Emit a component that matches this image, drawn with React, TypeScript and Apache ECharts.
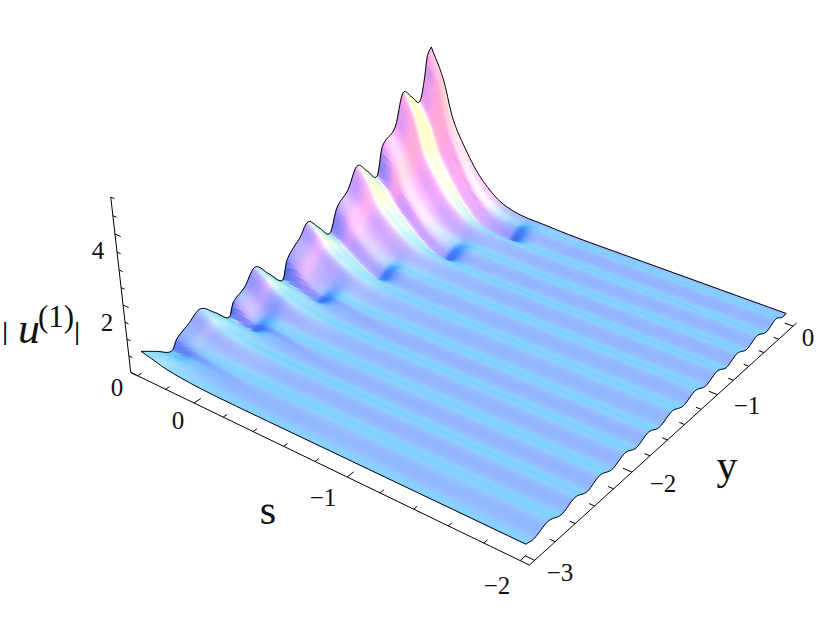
import React, { useEffect, useRef } from "react";
import * as echarts from "echarts";

// ---- values ----
const sTicks = [0.4, 0.2, 0, -0.2, -0.4, -0.6, -0.8, -1, -1.2, -1.4, -1.6, -1.8, -2];
const sLabels = [[0, "0"], [-1, "\u22121"], [-2, "\u22122"]];
const yTicks = [-3, -2.8, -2.6, -2.4, -2.2, -2, -1.8, -1.6, -1.4, -1.2, -1, -0.8, -0.6, -0.4, -0.2, 0];
const yLabels = [[-3, "\u22123"], [-2, "\u22122"], [-1, "\u22121"], [0, "0"]];
const zTicks = [0, 0.5, 1, 1.5, 2, 2.5, 3, 3.5, 4, 4.5, 5];
const zLabels = [[0, "0"], [2, "2"], [4, "4"]];

// section of the surface at the s = 0.4 edge
const edgeY = [-3, -2.87, -2.74, -2.69, -2.58, -2.46, -2.33, -2.2, -2.16, -2.04, -1.93, -1.8, -1.665, -1.615, -1.47, -1.385, -1.27, -1.16, -1.08, -0.955, -0.85, -0.74, -0.63, -0.57, -0.42, -0.33, -0.23, -0.13, -0.07, -0.05, 0];
const edgeZ = [0.63, 0.36, 0.1, 0.36, 0.58, 0.82, 0.45, 0.05, 0.41, 0.67, 1.08, 0.63, 0.18, 0.71, 1.17, 1.49, 1.1, 0.74, 1.39, 1.75, 2.32, 1.98, 1.65, 2.46, 2.85, 3.76, 3.5, 3.23, 4.0, 4.46, 4.7];

// section of the surface at the s = -2 edge
const farY = [-3, -2.92, -2.786, -2.65, -2.516, -2.39, -2.26, -2.125, -1.99, -1.86, -1.733, -1.6, -1.46, -1.32, -1.186, -1.05, -0.916, -0.79, -0.662, -0.53, -0.4, -0.27, -0.144, -0.05, 0];
const farZ = [0.33, 0.28, 0.42, 0.27, 0.42, 0.27, 0.42, 0.27, 0.42, 0.27, 0.42, 0.27, 0.42, 0.27, 0.42, 0.27, 0.42, 0.27, 0.42, 0.27, 0.42, 0.27, 0.42, 0.28, 0.3];

// how much of the edge section survives along -s
const fadeT = [-0.4, -0.31, -0.24, -0.135, -0.04, 0.09, 0.2, 0.33, 0.5, 0.7, 2];
const fadeW = [1, 0.8, 0.55, 0.35, 0.21, 0.09, 0.04, 0.018, 0.006, 0, 0];

// grooves running from the edge troughs to the dark pockets
const grooveY = [-2.2, -1.665, -1.16, -0.63, -0.13];
const grooveEnd = [-0.22, -0.12, -0.01, 0.14, 0.3];
const grooveD = [0.22, 0.27, 0.32, 0.37, 0.42];

// ---- helpers ----
function interp(xs: number[], ys: number[], x: number) {
  const n = xs.length;
  if (x <= xs[0]) return ys[0];
  if (x >= xs[n - 1]) return ys[n - 1];
  let i = 0;
  while (x > xs[i + 1]) i++;
  const h = xs[i + 1] - xs[i];
  const f = (x - xs[i]) / h;
  const d0 = i > 0 ? (ys[i + 1] - ys[i - 1]) / (xs[i + 1] - xs[i - 1]) : (ys[i + 1] - ys[i]) / h;
  const d1 = i < n - 2 ? (ys[i + 2] - ys[i]) / (xs[i + 2] - xs[i]) : (ys[i + 1] - ys[i]) / h;
  const f2 = f * f, f3 = f2 * f;
  return (2 * f3 - 3 * f2 + 1) * ys[i] + (f3 - 2 * f2 + f) * h * d0 + (-2 * f3 + 3 * f2) * ys[i + 1] + (f3 - f2) * h * d1;
}

function height(s: number, y: number) {
  const t = -s;
  const w = Math.max(0, interp(fadeT, fadeW, t));
  const far = interp(farY, farZ, y);
  const bend = 0.2 * (t + 0.4);
  const edge = interp(edgeY, edgeZ, Math.min(0, y + bend));
  let z = far + (edge - far) * w;
  for (let k = 0; k < grooveY.length; k++) {
    const end = grooveEnd[k];
    const ramp = (t + 0.4) / (end + 0.4);
    const span = t <= end ? ramp * ramp * (3 - 2 * ramp) : Math.exp(-(((t - end) / 0.085) ** 2));
    const dy = y - (grooveY[k] - bend);
    const g = dy > 0 ? Math.exp(-((dy / 0.17) ** 2)) : Math.exp(-((dy / 0.05) ** 2));
    z -= grooveD[k] * span * g;
  }
  return Math.max(0.02, z);
}

// camera: plot coordinates of (s, y, z)
function project(s: number, y: number, z: number): [number, number] {
  const t = -s, u = y + 3.05;
  const w = 1 - 0.0578 * t + 0.0615 * u - 0.01284 * z;
  return [(194 + 133 * t + 125 * u - 5.52 * z) / w, (403 + 46.4 * t - 49 * u - 38.5 * z) / w];
}

// display-space lighting
const ROW1 = [0.793, 0.518, -0.096];
const ROW2 = [-0.37, 0.464, 0.861];
const ROW3 = [0.484, -0.718, 0.493];
const soft = (v: number, lim: number) => v / Math.sqrt(1 + (v / lim) ** 2);
function shade(s: number, y: number) {
  const e = 0.006;
  const dzt = (height(s - e, y) - height(s + e, y)) / (2 * e);
  const dzu = (height(s, y + e) - height(s, y - e)) / (2 * e);
  const bx = soft(-dzt * 0.17, 1.4), by = soft(-dzu * 0.24 - 0.08, 1.0), bz = 1;
  const nx = ROW1[0] * bx + ROW1[1] * by + ROW1[2] * bz;
  const ny = ROW2[0] * bx + ROW2[1] * by + ROW2[2] * bz;
  const nz = ROW3[0] * bx + ROW3[1] * by + ROW3[2] * bz;
  const len = Math.hypot(nx, ny, nz);
  const a = nx / len, b = ny / len, c = nz / len;
  const d1 = Math.max(0, (a + c) / Math.SQRT2);
  const d2 = Math.max(0, (a + b + c) / Math.sqrt(3));
  const d3 = Math.max(0, (b + c) / Math.SQRT2);
  const to = (v: number) => Math.round(255 * Math.min(1, Math.max(0, v)));
  const green = 0.22 + 0.8 * d2 - 0.45 * Math.max(0, c - 0.78);
  return `rgb(${to(0.26 + d1)},${to(green)},${to(0.1 + 1.05 * d3)})`;
}

// mesh lines
const meshS: number[] = [];
for (let s = 0.4; s > -0.6; s -= 0.015) meshS.push(s);
for (let s = -0.6; s > -2; s -= 0.1) meshS.push(s);
meshS.push(-2);
const meshY: number[] = [];
for (let k = 0; k <= 200; k++) meshY.push(-k * 0.015);

const cells: number[][] = [];
for (let i = 0; i < meshY.length - 1; i++) for (let j = 0; j < meshS.length - 1; j++) cells.push([i, j]);
const heights = meshY.map((y) => meshS.map((s) => height(s, y)));

type Item = { kind: string; pts?: number[][]; text?: string; at?: number[]; size?: number; italic?: boolean; bold?: boolean };
const items: Item[] = [];
const seg = (a: number[], b: number[]) => items.push({ kind: "line", pts: [project(a[0], a[1], a[2]), project(b[0], b[1], b[2])] });
seg([0.45, -3.05, 0], [-2.05, -3.05, 0]);
seg([-2.05, -3.05, 0], [-2.05, 0.05, 0]);
seg([0.45, -3.05, 0], [0.45, -3.05, 5]);
sTicks.forEach((v) => {
  const major = sLabels.some((l) => l[0] === v);
  seg([v, -3.05, 0], [v, -3.05 + (major ? 0.06 : 0.035), 0]);
});
yTicks.forEach((v) => {
  const major = yLabels.some((l) => l[0] === v);
  seg([-2.05, v, 0], [-2.05 + (major ? 0.05 : 0.03), v, 0]);
});
zTicks.forEach((v) => {
  const major = zLabels.some((l) => l[0] === v);
  seg([0.45, -3.05, v], [0.45 - (major ? 0.04 : 0.025), -3.05, v]);
});
const tickLabel = (text: string, at: number[]) => items.push({ kind: "text", text, at, size: 25 });
const sAt = [[178, 420], [323, 497], [497, 585]];
const yAt = [[560, 572], [663, 483], [747, 405], [808, 337]];
const zAt = [[117, 387], [107, 322], [98, 250]];
sLabels.forEach((l, i) => tickLabel(l[1] as string, sAt[i]));
yLabels.forEach((l, i) => tickLabel(l[1] as string, yAt[i]));
zLabels.forEach((l, i) => tickLabel(l[1] as string, zAt[i]));
items.push({ kind: "text", text: "s", at: [268, 510], size: 42 });
items.push({ kind: "text", text: "y", at: [727, 465], size: 42 });
items.push({ kind: "text", text: "|", at: [5, 331], size: 26, bold: true });
items.push({ kind: "text", text: "u", at: [29, 328], size: 44, italic: true });
items.push({ kind: "text", text: "(1)", at: [56, 316], size: 31 });
items.push({ kind: "text", text: "|", at: [77, 331], size: 26, bold: true });

const outline = [
  meshY.map((y) => project(0.4, y, height(0.4, y))),
  meshS.map((s) => project(s, 0, height(s, 0))),
  meshY.map((y) => project(-2, y, height(-2, y))),
  meshS.map((s) => project(s, -3, height(s, -3))),
];

export default function App() {
  const ref = useRef<HTMLDivElement>(null);
  useEffect(() => {
    const chart = echarts.init(ref.current!, undefined, { renderer: "svg" });
    chart.setOption({
      animation: false,
      backgroundColor: "#fff",
      grid: { left: 0, right: 0, top: 0, bottom: 0 },
      xAxis: { type: "value", min: 0, max: 820, show: false },
      yAxis: { type: "value", min: 0, max: 641, inverse: true, show: false },
      series: [
        {
          type: "custom",
          coordinateSystem: "cartesian2d",
          silent: true,
          clip: false,
          progressive: 0,
          data: cells,
          renderItem: (_p: any, api: any) => {
            const i = api.value(0), j = api.value(1);
            const P = (a: number, b: number) => api.coord(project(meshS[b], meshY[a], heights[a][b]));
            const fill = shade((meshS[j] + meshS[j + 1]) / 2, (meshY[i] + meshY[i + 1]) / 2);
            return {
              type: "polygon",
              shape: { points: [P(i, j), P(i, j + 1), P(i + 1, j + 1), P(i + 1, j)] },
              style: { fill, stroke: fill, lineWidth: 0.7 },
            };
          },
        },
        {
          type: "custom",
          coordinateSystem: "cartesian2d",
          silent: true,
          clip: false,
          data: outline.map((_, k) => [k]),
          renderItem: (_p: any, api: any) => ({
            type: "polyline",
            shape: { points: outline[api.value(0)].map((q) => api.coord(q)) },
            style: { fill: "none", stroke: "#000", lineWidth: 1 },
          }),
        },
        {
          type: "custom",
          coordinateSystem: "cartesian2d",
          silent: true,
          clip: false,
          data: items.map((_, k) => [k]),
          renderItem: (_p: any, api: any) => {
            const it = items[api.value(0)];
            if (it.kind === "line") {
              const a = api.coord(it.pts![0]), b = api.coord(it.pts![1]);
              return {
                type: "line",
                shape: { x1: a[0], y1: a[1], x2: b[0], y2: b[1] },
                style: { stroke: "#000", lineWidth: 1 },
              };
            }
            const c = api.coord(it.at!);
            return {
              type: "text",
              style: {
                x: c[0],
                y: c[1],
                text: it.text,
                fill: "#111",
                align: "center",
                verticalAlign: "middle",
                fontFamily: "Liberation Serif",
                fontSize: it.size,
                fontStyle: it.italic ? "italic" : "normal",
                fontWeight: it.bold ? "bold" : "normal",
              },
            };
          },
        },
      ],
    });
    return () => chart.dispose();
  }, []);
  return <div ref={ref} style={{ position: "absolute", left: 0, top: 0, width: 820, height: 641 }} />;
}
